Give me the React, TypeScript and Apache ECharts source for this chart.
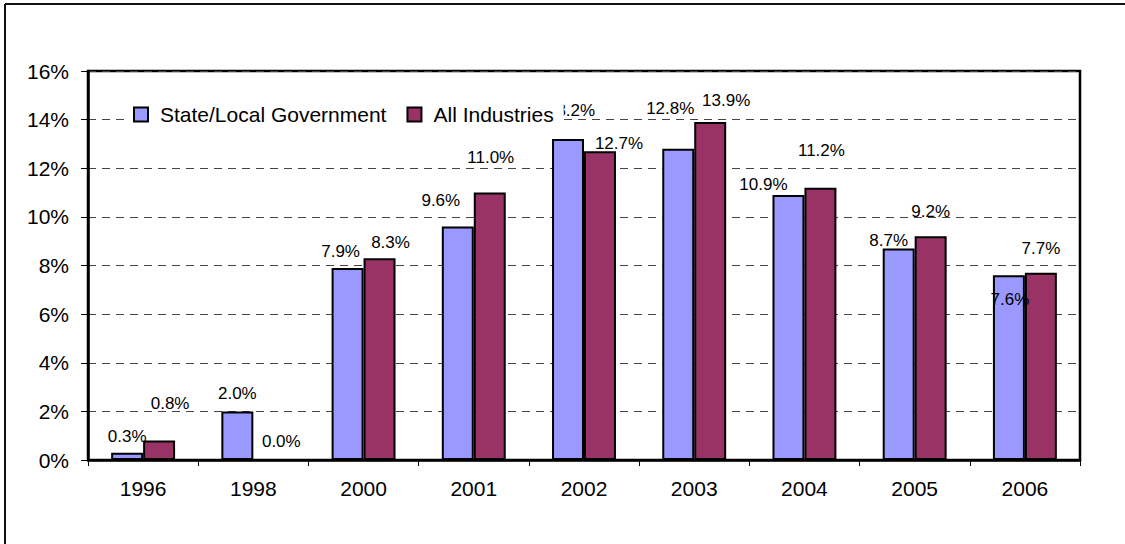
import React, { useEffect, useRef } from "react";
import * as echarts from "echarts";

const categories = ["1996", "1998", "2000", "2001", "2002", "2003", "2004", "2005", "2006"];
const govValues = [0.3, 2.0, 7.9, 9.6, 13.2, 12.8, 10.9, 8.7, 7.6];
const allValues = [0.8, 0.0, 8.3, 11.0, 12.7, 13.9, 11.2, 9.2, 7.7];
const seriesNames = ["State/Local Government", "All Industries"];
const yTicks = { min: 0, max: 16, interval: 2 };

// label placement offsets (as in the original, manually dragged labels)
const govLabelOffsets = [[0, -6], [0, -8], [-7, -6], [-17, -16], [3, -19], [-8, -30], [-25, 0], [-10, 2], [1, 34]];
const allLabelOffsets = [[11, -27], [12, -8], [11, -6], [1, -25], [19, 2], [16, -12], [1, -27], [0, -15], [0, -14]];

const FONT = "'Liberation Sans', Arial, sans-serif";

function buildData(values: number[], offsets: number[][]) {
  return values.map((v, i) => ({
    value: v,
    label: { offset: offsets[i] },
  }));
}

export default function App() {
  const ref = useRef<HTMLDivElement>(null);
  useEffect(() => {
    if (!ref.current) return;
    const chart = echarts.init(ref.current, null, { renderer: "svg" });
    const labelCfg = {
      show: true,
      position: "top",
      distance: 0,
      fontSize: 17,
      lineHeight: 20,
      fontFamily: FONT,
      color: "#000",
      formatter: (p: any) => Number(p.value).toFixed(1) + "%",
    };
    chart.setOption({
      animation: false,
      backgroundColor: "#fff",
      textStyle: { fontFamily: FONT },
      grid: {
        left: 88,
        top: 71,
        right: 45,
        bottom: 84,
        show: true,
        borderColor: "#000",
        borderWidth: 2.5,
        backgroundColor: "transparent",
      },
      legend: {
        left: 128,
        top: 100,
        padding: [4, 10, 4, 5],
        backgroundColor: "#fff",
        itemWidth: 14,
        itemHeight: 14,
        itemGap: 20,
        icon: "rect",
        itemStyle: { borderColor: "#000", borderWidth: 2 },
        textStyle: { fontSize: 21, fontFamily: FONT, color: "#000", padding: [0, 0, 0, 7] },
        data: seriesNames,
        z: 10,
      },
      xAxis: {
        type: "category",
        data: categories,
        axisLine: { lineStyle: { color: "#000", width: 2.5 } },
        axisTick: { show: true, length: 6, lineStyle: { color: "#000", width: 1 } },
        axisLabel: { fontSize: 21, color: "#000", fontFamily: FONT, margin: 18 },
        splitLine: { show: false },
      },
      yAxis: {
        type: "value",
        min: yTicks.min,
        max: yTicks.max,
        interval: yTicks.interval,
        axisLine: { show: true, lineStyle: { color: "#000", width: 2.5 } },
        axisTick: { show: true, length: 7, lineStyle: { color: "#000", width: 1 } },
        axisLabel: {
          fontSize: 21,
          color: "#000",
          fontFamily: FONT,
          margin: 19,
          formatter: (v: number) => v + "%",
        },
        splitLine: { show: true, lineStyle: { color: "#444", width: 1, type: [8, 6] } },
      },
      series: [
        {
          name: seriesNames[0],
          type: "bar",
          data: buildData(govValues, govLabelOffsets),
          barGap: "0%",
          barCategoryGap: "42%",
          itemStyle: { color: "#9999FF", borderColor: "#000", borderWidth: 2 },
          label: labelCfg,
        },
        {
          name: seriesNames[1],
          type: "bar",
          data: buildData(allValues, allLabelOffsets),
          barGap: "0%",
          barCategoryGap: "42%",
          itemStyle: { color: "#993366", borderColor: "#000", borderWidth: 2 },
          label: labelCfg,
        },
      ],
      graphic: [
        { type: "line", shape: { x1: 5, y1: 4, x2: 1125, y2: 4 }, style: { stroke: "#111", lineWidth: 2 } },
        { type: "line", shape: { x1: 5, y1: 4, x2: 5, y2: 544 }, style: { stroke: "#111", lineWidth: 2 } },
      ],
    });
    return () => chart.dispose();
  }, []);
  return (
    <div
      ref={ref}
      style={{ position: "fixed", left: 0, top: 0, width: 1125, height: 544 }}
    />
  );
}
